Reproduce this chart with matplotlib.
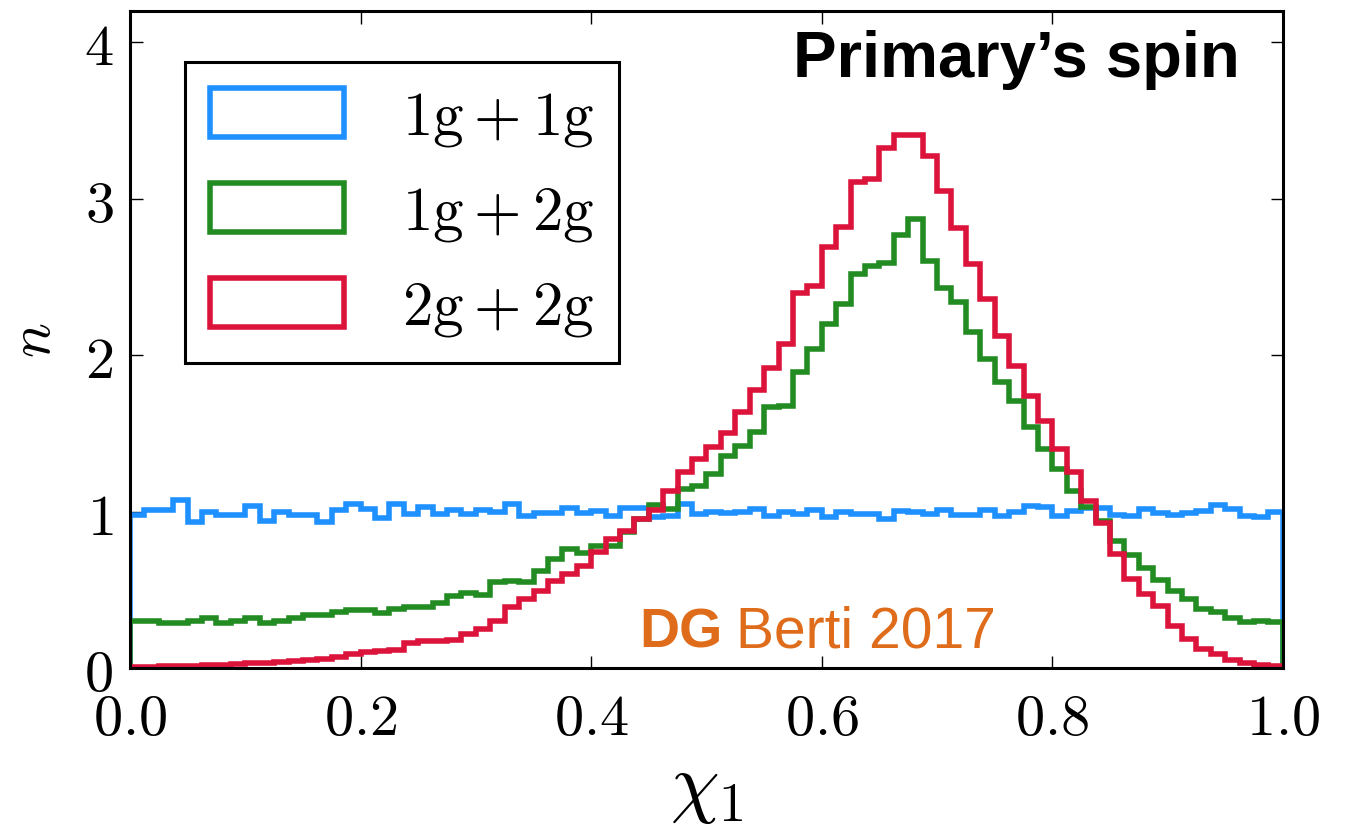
import numpy as np
import matplotlib
matplotlib.use("Agg")
import matplotlib.pyplot as plt

# ---- data (80 bins on [0, 1]) ----
n_bins = 80
bin_edges = np.linspace(0.0, 1.0, n_bins + 1)

series_labels = [r"$1\mathrm{g}+1\mathrm{g}$", r"$1\mathrm{g}+2\mathrm{g}$", r"$2\mathrm{g}+2\mathrm{g}$"]
series_colors = ["#1E90FF", "#228B22", "#DC143C"]

n_1g1g = [0.98, 1.01, 1.01, 1.075, 0.935, 0.995, 0.98, 0.98, 1.035, 0.94,
          0.995, 0.98, 0.98, 0.935, 1.012, 1.05, 1.016, 0.96, 1.05, 0.985,
          1.03, 0.985, 1.01, 0.985, 1.01, 0.995, 1.05, 0.975, 0.99, 0.99,
          1.02, 0.99, 1.005, 0.975, 1.02, 1.02, 0.965, 0.975, 1.05, 0.985,
          1.0, 0.99, 1.0, 1.016, 0.975, 1.0, 0.985, 1.01, 0.965, 1.0,
          0.985, 0.985, 0.952, 1.005, 1.0, 0.984, 1.012, 0.978, 0.98, 1.012,
          0.97, 1.0, 1.035, 1.03, 0.975, 1.005, 1.025, 1.02, 0.98, 0.97,
          1.016, 0.99, 0.98, 0.99, 1.005, 1.04, 1.016, 0.97, 0.965, 1.0]

n_1g2g = [0.30, 0.30, 0.285, 0.29, 0.30, 0.32, 0.285, 0.30, 0.32, 0.285,
          0.30, 0.32, 0.34, 0.34, 0.356, 0.37, 0.37, 0.35, 0.377, 0.39,
          0.39, 0.415, 0.46, 0.477, 0.465, 0.548, 0.558, 0.55, 0.62, 0.70,
          0.76, 0.735, 0.78, 0.78, 0.87, 0.95, 1.04, 1.016, 1.144, 1.165,
          1.24, 1.357, 1.42, 1.506, 1.666, 1.676, 1.89, 2.038, 2.198, 2.326,
          2.518, 2.57, 2.59, 2.77, 2.87, 2.60, 2.43, 2.337, 2.145, 1.974,
          1.826, 1.708, 1.538, 1.40, 1.27, 1.13, 1.03, 0.94, 0.81, 0.72,
          0.637, 0.562, 0.494, 0.441, 0.377, 0.356, 0.317, 0.296, 0.30, 0.292]

n_2g2g = [0.005, 0.008, 0.01, 0.012, 0.015, 0.02, 0.022, 0.025, 0.03, 0.035,
          0.04, 0.045, 0.05, 0.06, 0.07, 0.09, 0.105, 0.11, 0.115, 0.16,
          0.17, 0.175, 0.18, 0.217, 0.249, 0.302, 0.388, 0.441, 0.494, 0.558,
          0.601, 0.654, 0.739, 0.824, 0.877, 0.952, 1.01, 1.13, 1.25, 1.335,
          1.41, 1.50, 1.635, 1.78, 1.92, 2.07, 2.40, 2.44, 2.69, 2.82,
          3.105, 3.125, 3.327, 3.41, 3.41, 3.27, 3.05, 2.816, 2.58, 2.358,
          2.123, 1.93, 1.74, 1.58, 1.40, 1.25, 1.07, 0.93, 0.73, 0.57,
          0.473, 0.398, 0.27, 0.185, 0.121, 0.089, 0.05, 0.035, 0.02, 0.012]

xticks = [0.0, 0.2, 0.4, 0.6, 0.8, 1.0]
xtick_labels = ["0.0", "0.2", "0.4", "0.6", "0.8", "1.0"]
yticks = [0, 1, 2, 3, 4]
ytick_labels = ["0", "1", "2", "3", "4"]

# ---- style ----
plt.rcParams["mathtext.fontset"] = "cm"
plt.rcParams["font.family"] = ["DejaVu Serif"]

fig = plt.figure(figsize=(13.5, 8.28), dpi=100)
ax = fig.add_axes([0.0963, 0.192, 0.854, 0.7935])

centers = 0.5 * (bin_edges[:-1] + bin_edges[1:])
for vals, lab, col in zip([n_1g1g, n_1g2g, n_2g2g], series_labels, series_colors):
    ax.hist(centers, bins=bin_edges, weights=vals, histtype="step",
            color=col, lw=4.0, label=lab)

ax.set_xlim(0, 1)
ax.set_ylim(0, 4.2)

ax.set_xticks(xticks)
ax.set_xticklabels(["$%s$" % t for t in xtick_labels])
ax.set_yticks(yticks)
ax.set_yticklabels(["$%s$" % t for t in ytick_labels])
ax.tick_params(axis="both", which="major", direction="in", length=9, width=1.0,
               top=True, right=True, labelsize=42, color="black")
ax.tick_params(axis="x", pad=16)
ax.tick_params(axis="y", pad=12)
for sp in ax.spines.values():
    sp.set_linewidth(2.2)

ax.set_xlabel(r"$\chi_1$", fontsize=56, labelpad=2)
ax.set_ylabel(r"$n$", fontsize=42, labelpad=16)

leg = ax.legend(loc="upper left", bbox_to_anchor=(0.048, 0.922), borderaxespad=0,
                fontsize=44, frameon=True, fancybox=False, framealpha=1.0,
                handlelength=2.2, handleheight=0.85, handletextpad=0.95,
                labelspacing=0.55, borderpad=0.4)
leg.get_frame().set_edgecolor("black")
leg.get_frame().set_linewidth(2.2)

ax.text(0.963, 0.901, "Primary\u2019s spin", transform=ax.transAxes, ha="right",
        va="baseline", fontsize=47, fontweight="bold", family=["Liberation Sans"])

orange = "#DF6C1A"
ax.text(0.442, 0.032, "DG", transform=ax.transAxes, ha="left", va="baseline",
        fontsize=40, fontweight="bold", color=orange, family=["Liberation Sans"])
ax.text(0.526, 0.032, "Berti 2017", transform=ax.transAxes, ha="left", va="baseline",
        fontsize=41, color=orange, family=["Liberation Sans"])

fig.savefig("out.png", dpi=100)
